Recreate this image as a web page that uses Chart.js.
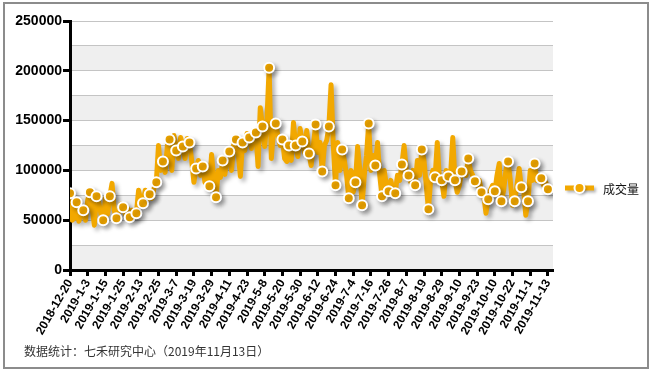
<!DOCTYPE html>
<html>
<head>
<meta charset="utf-8">
<script src="https://cdn.jsdelivr.net/npm/chart.js@4.4.1/dist/chart.umd.min.js"></script>
<style>
    body { margin: 0; background: #fff; }
    #wrap { position: relative; width: 654px; height: 373px; }
    #frame { position: absolute; left: 3px; top: 2px; width: 642px; height: 363px; border: 2px solid #8c8c8c; pointer-events: none; }
    #source { position: absolute; left: 24px; top: 342px; font: 12px "Noto Sans CJK SC", sans-serif; color: #333; }
</style>
</head>
<body>
<div id="wrap">
    <canvas id="volume-chart" width="654" height="373"></canvas>
    <div id="frame"></div>
    <div id="source">数据统计：七禾研究中心（2019年11月13日）</div>
</div>
<script>
// tick labels, one every 8 trading days
const dateTicks = [
    '2018-12-20', '2019-1-3', '2019-1-15', '2019-1-25', '2019-2-13', '2019-2-25', '2019-3-7',
    '2019-3-19', '2019-3-29', '2019-4-11', '2019-4-23', '2019-5-8', '2019-5-20', '2019-5-30',
    '2019-6-12', '2019-6-24', '2019-7-4', '2019-7-16', '2019-7-26', '2019-8-7', '2019-8-19',
    '2019-8-29', '2019-9-10', '2019-9-23', '2019-10-10', '2019-10-22', '2019-11-1', '2019-11-13'
];

const seriesName = '成交量';

// daily volume (217 trading days)
const volume = [
    77000, 50000, 52000, 68000, 49000, 55000, 60000, 50000, 70000, 78000,
    62000, 45000, 74000, 68000, 56000, 50000, 72000, 56000, 74000, 87000,
    60000, 52000, 58000, 66000, 63000, 56000, 62000, 53000, 60000, 54000,
    57000, 80000, 70000, 67000, 80000, 70000, 76000, 72000, 82000, 88000,
    125000, 100000, 109000, 98000, 125000, 131000, 100000, 135000, 120000, 112000,
    133000, 124000, 112000, 132000, 128000, 110000, 88000, 102000, 110000, 95000,
    104000, 88000, 100000, 84000, 116000, 90000, 73000, 100000, 93000, 110000,
    96000, 112000, 119000, 100000, 126000, 131000, 118000, 94000, 128000, 120000,
    137000, 133000, 122000, 140000, 138000, 104000, 163000, 144000, 124000, 150000,
    203000, 112000, 140000, 147000, 135000, 125000, 131000, 112000, 109000, 125000,
    110000, 148000, 125000, 114000, 142000, 129000, 118000, 140000, 117000, 105000,
    125000, 146000, 118000, 128000, 99000, 125000, 130000, 144000, 186000, 125000,
    85000, 128000, 100000, 121000, 110000, 95000, 72000, 100000, 78000, 88000,
    124000, 100000, 65000, 95000, 115000, 147000, 100000, 115000, 105000, 128000,
    95000, 74000, 100000, 85000, 79000, 90000, 80000, 77000, 95000, 90000,
    106000, 125000, 100000, 95000, 88000, 100000, 85000, 110000, 95000, 121000,
    110000, 85000, 61000, 90000, 100000, 93000, 128000, 90000, 90000, 74000,
    100000, 94000, 95000, 133000, 90000, 78000, 85000, 99000, 100000, 95000,
    112000, 100000, 95000, 89000, 85000, 90000, 78000, 75000, 57000, 71000,
    80000, 85000, 79000, 95000, 107000, 69000, 80000, 100000, 109000, 90000,
    65000, 69000, 85000, 102000, 83000, 80000, 55000, 69000, 100000, 90000,
    107000, 90000, 95000, 92000, 85000, 88000, 81000
];

const orange = '#f2a800';

// alternating grey bands behind the grid
const bandsPlugin = {
    id: 'bands',
    beforeDraw(chart) {
        const { ctx, chartArea, scales } = chart;
        const y = scales.y;
        ctx.save();
        ctx.fillStyle = '#efefef';
        for (let v = 0; v < 250000; v += 50000) {
            const top = y.getPixelForValue(v + 25000);
            const bottom = y.getPixelForValue(v);
            ctx.fillRect(chartArea.left, top, chartArea.width, bottom - top);
        }
        ctx.restore();
    }
};

// soft drop shadow under the line
const shadowPlugin = {
    id: 'lineShadow',
    beforeDatasetDraw(chart) {
        const ctx = chart.ctx;
        ctx.save();
        ctx.shadowColor = 'rgba(0,0,0,0.3)';
        ctx.shadowBlur = 4;
        ctx.shadowOffsetX = 3;
        ctx.shadowOffsetY = 3;
    },
    afterDatasetDraw(chart) {
        chart.ctx.restore();
    }
};

// legend on the right: line + marker + name
const legendPlugin = {
    id: 'sideLegend',
    afterDraw(chart) {
        const ctx = chart.ctx;
        const x0 = chart.chartArea.right + 12;
        const y0 = 188;
        ctx.save();
        ctx.shadowColor = 'rgba(0,0,0,0.3)';
        ctx.shadowBlur = 3;
        ctx.shadowOffsetX = 2;
        ctx.shadowOffsetY = 2;
        ctx.strokeStyle = orange;
        ctx.lineWidth = 5;
        ctx.beginPath();
        ctx.moveTo(x0, y0);
        ctx.lineTo(x0 + 29, y0);
        ctx.stroke();
        ctx.beginPath();
        ctx.arc(x0 + 14.5, y0, 5, 0, Math.PI * 2);
        ctx.fillStyle = orange;
        ctx.fill();
        ctx.shadowColor = 'transparent';
        ctx.lineWidth = 2;
        ctx.strokeStyle = '#fff';
        ctx.stroke();
        ctx.fillStyle = '#111';
        ctx.font = '12px "Noto Sans CJK SC", sans-serif';
        ctx.textBaseline = 'middle';
        ctx.fillText(seriesName, x0 + 38, y0 + 1);
        ctx.restore();
    }
};

const ctx = document.getElementById('volume-chart').getContext('2d');

const chart = new Chart(ctx, {
    type: 'line',
    data: {
        datasets: [{
            label: seriesName,
            data: volume.map((v, i) => ({ x: i, y: v })),
            borderColor: orange,
            borderWidth: 5,
            borderJoinStyle: 'round',
            borderCapStyle: 'round',
            tension: 0,
            fill: false,
            pointBackgroundColor: orange,
            pointBorderColor: '#fff',
            pointBorderWidth: 2,
            pointRadius: c => (c.dataIndex % 3 === 0 ? 5 : 0),
            pointHoverRadius: 0
        }]
    },
    options: {
        responsive: false,
        animation: false,
        layout: {
            padding: { left: 0, right: 101, top: 21, bottom: 0 }
        },
        scales: {
            x: {
                type: 'linear',
                min: 0,
                max: 218.3,
                afterFit: s => { s.height = 103; },
                afterBuildTicks: s => {
                    s.ticks = dateTicks.map((d, k) => ({ value: k * 8 }));
                },
                ticks: {
                    autoSkip: false,
                    minRotation: 60,
                    maxRotation: 60,
                    padding: 1,
                    color: '#000',
                    font: { family: 'Arial, "Liberation Sans"', size: 12, weight: 'bold' },
                    callback: v => dateTicks[Math.round(v / 8)]
                },
                grid: {
                    drawOnChartArea: false,
                    tickLength: 6,
                    tickWidth: 3,
                    tickColor: '#000'
                },
                border: { color: '#000', width: 3 }
            },
            y: {
                min: 0,
                max: 250000,
                afterFit: s => { s.width = 70; },
                ticks: {
                    stepSize: 25000,
                    padding: 1,
                    color: '#000',
                    font: { family: 'Arial, "Liberation Sans"', size: 14, weight: 'bold' },
                    callback: v => (v % 50000 === 0 ? String(v) : '')
                },
                grid: {
                    color: '#c4c4c4',
                    lineWidth: 1,
                    tickLength: 7,
                    tickWidth: 3,
                    tickColor: c => (c.tick.value % 50000 === 0 ? '#000' : 'rgba(0,0,0,0)')
                },
                border: { color: '#000', width: 3 }
            }
        },
        plugins: {
            legend: { display: false },
            tooltip: { enabled: false }
        }
    },
    plugins: [bandsPlugin, shadowPlugin, legendPlugin]
});
</script>
</body>
</html>
